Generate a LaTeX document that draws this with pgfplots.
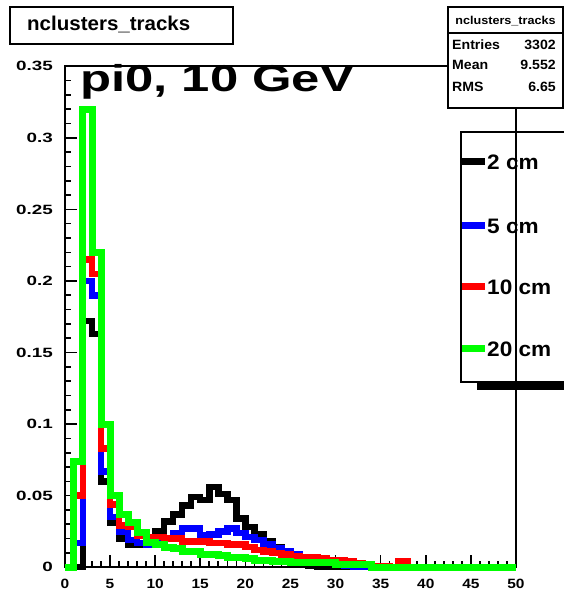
\documentclass[border=0pt]{standalone}
\usepackage{fontspec}
\setmainfont{Liberation Sans}
\usepackage{pgfplots}
\usepackage{pgfplotstable}
\pgfplotsset{compat=1.18}

\definecolor{rootgreen}{RGB}{0,255,0}
\definecolor{rootblue}{RGB}{0,0,255}
\definecolor{rootred}{RGB}{255,0,0}

% tick label helpers (ROOT-style wide bold Helvetica)
\newcommand{\xl}[1]{\scalebox{1.15}[1]{\fontsize{13.5}{14}\selectfont\bfseries #1}}
\newcommand{\yl}[1]{\scalebox{1.4}[1]{\fontsize{13.5}{14}\selectfont\bfseries #1}}
\newcommand{\txt}[3]{\scalebox{#1}[1]{\fontsize{#2}{#2}\selectfont\bfseries #3}}

% normalised number of clusters per event, one column per distance
\pgfplotstableread{
k  black  blue   red    green
0  0      0      0      0
1  0      0.017  0.050  0.074
2  0.172  0.200  0.215  0.320
3  0.163  0.190  0.205  0.220
4  0.060  0.067  0.083  0.100
5  0.031  0.035  0.044  0.050
6  0.020  0.025  0.029  0.037
7  0.016  0.019  0.028  0.031
8  0.016  0.017  0.022  0.024
9  0.018  0.016  0.021  0.017
10 0.025  0.019  0.021  0.016
11 0.032  0.020  0.020  0.014
12 0.037  0.024  0.020  0.013
13 0.043  0.027  0.018  0.011
14 0.049  0.027  0.018  0.011
15 0.047  0.022  0.018  0.009
16 0.056  0.023  0.017  0.009
17 0.051  0.025  0.017  0.008
18 0.047  0.027  0.016  0.007
19 0.034  0.024  0.016  0.007
20 0.028  0.021  0.014  0.006
21 0.023  0.019  0.012  0.005
22 0.018  0.016  0.011  0.005
23 0.014  0.013  0.010  0.004
24 0.010  0.011  0.009  0.004
25 0.007  0.009  0.008  0.003
26 0.004  0.007  0.007  0.003
27 0.001  0.006  0.007  0.003
28 0      0.004  0.006  0.003
29 0      0.003  0.005  0.003
30 0      0.002  0.005  0.002
31 0      0.001  0.004  0.002
32 0      0      0.003  0.002
33 0      0      0.002  0.002
34 0      0      0.001  0
35 0      0      0.001  0
36 0      0      0      0
37 0      0      0.004  0
38 0      0      0      0
39 0      0      0      0
40 0      0      0      0
41 0      0      0      0
42 0      0      0      0
43 0      0      0      0
44 0      0      0      0
45 0      0      0      0
46 0      0      0      0
47 0      0      0      0
48 0      0      0      0
49 0      0      0      0
50 0      0      0      0
}\hist

\begin{document}
\begin{tikzpicture}[x=1bp,y=1bp]
\path[use as bounding box] (0,0) rectangle (564,593);
\begin{axis}[
  at={(72,18)}, anchor=south west,
  width=451bp, height=501bp, scale only axis,
  xmin=0, xmax=50, ymin=0, ymax=0.35,
  xtick={0,5,10,15,20,25,30,35,40,45,50},
  xticklabels={\xl{0},\xl{5},\xl{10},\xl{15},\xl{20},\xl{25},\xl{30},\xl{35},\xl{40},\xl{45},\xl{50}},
  ytick={0,0.05,0.1,0.15,0.2,0.25,0.3,0.35},
  yticklabels={\yl{0},\yl{0.05},\yl{0.1},\yl{0.15},\yl{0.2},\yl{0.25},\yl{0.3},\yl{0.35}},
  minor x tick num=4, minor y tick num=4,
  tick align=inside, xtick pos=bottom, ytick pos=left,
  major tick length=12bp, minor tick length=6bp,
  every tick/.style={black, line width=1.6bp},
  axis line style={line width=2.2bp},
  xticklabel style={anchor=north, yshift=-12bp, inner sep=0pt},
  yticklabel style={anchor=east, xshift=-12bp, inner sep=0pt},
  clip=false,
]
\addplot[const plot, black,      line width=6.5bp, line join=miter] table[x=k, y=black] {\hist};
\addplot[const plot, rootblue,   line width=6.5bp, line join=miter] table[x=k, y=blue]  {\hist};
\addplot[const plot, rootred,    line width=6.5bp, line join=miter] table[x=k, y=red]   {\hist};
\addplot[const plot, rootgreen,  line width=7bp,   line join=miter] table[x=k, y=green] {\hist};
\end{axis}

% histogram title box
\draw[line width=1.8bp] (10,586) rectangle (233,549);
\node[anchor=west, inner sep=0pt] at (27,568) {\txt{1.03}{20}{nclusters\_tracks}};

% plot label
\node[anchor=base west, inner sep=0pt] at (80,501) {\txt{1.36}{37.5}{pi0, 10 GeV}};

% statistics box
\filldraw[fill=white, draw=black, line width=1.5bp] (448,586) rectangle (563,485);
\draw[line width=1.5bp] (448,560) -- (563,560);
\node[inner sep=0pt] at (505.5,572) {\txt{1.1}{11.5}{nclusters\_tracks}};
\node[anchor=west, inner sep=0pt] at (452,548) {\txt{1.05}{13.5}{Entries}};
\node[anchor=east, inner sep=0pt] at (556,548) {\txt{1.05}{13.5}{3302}};
\node[anchor=west, inner sep=0pt] at (452,528) {\txt{1.05}{13.5}{Mean}};
\node[anchor=east, inner sep=0pt] at (556,528) {\txt{1.05}{13.5}{9.552}};
\node[anchor=west, inner sep=0pt] at (452,506) {\txt{1.05}{13.5}{RMS}};
\node[anchor=east, inner sep=0pt] at (556,506) {\txt{1.05}{13.5}{6.65}};

% legend
\draw[line width=1.8bp] (600,461) -- (461,461) -- (461,211) -- (600,211);
\fill[black] (477,203) rectangle (600,211.5);
\draw[line width=7bp, black]     (462,431) -- (485,431);
\draw[line width=7bp, rootblue]  (462,367) -- (485,367);
\draw[line width=7bp, rootred]   (462,306) -- (485,306);
\draw[line width=7bp, rootgreen] (462,244) -- (485,244);
\node[anchor=west, inner sep=0pt] at (487,431) {\txt{1.08}{21}{2 cm}};
\node[anchor=west, inner sep=0pt] at (487,367) {\txt{1.08}{21}{5 cm}};
\node[anchor=west, inner sep=0pt] at (487,306) {\txt{1.08}{21}{10 cm}};
\node[anchor=west, inner sep=0pt] at (487,244) {\txt{1.08}{21}{20 cm}};
\end{tikzpicture}
\end{document}
